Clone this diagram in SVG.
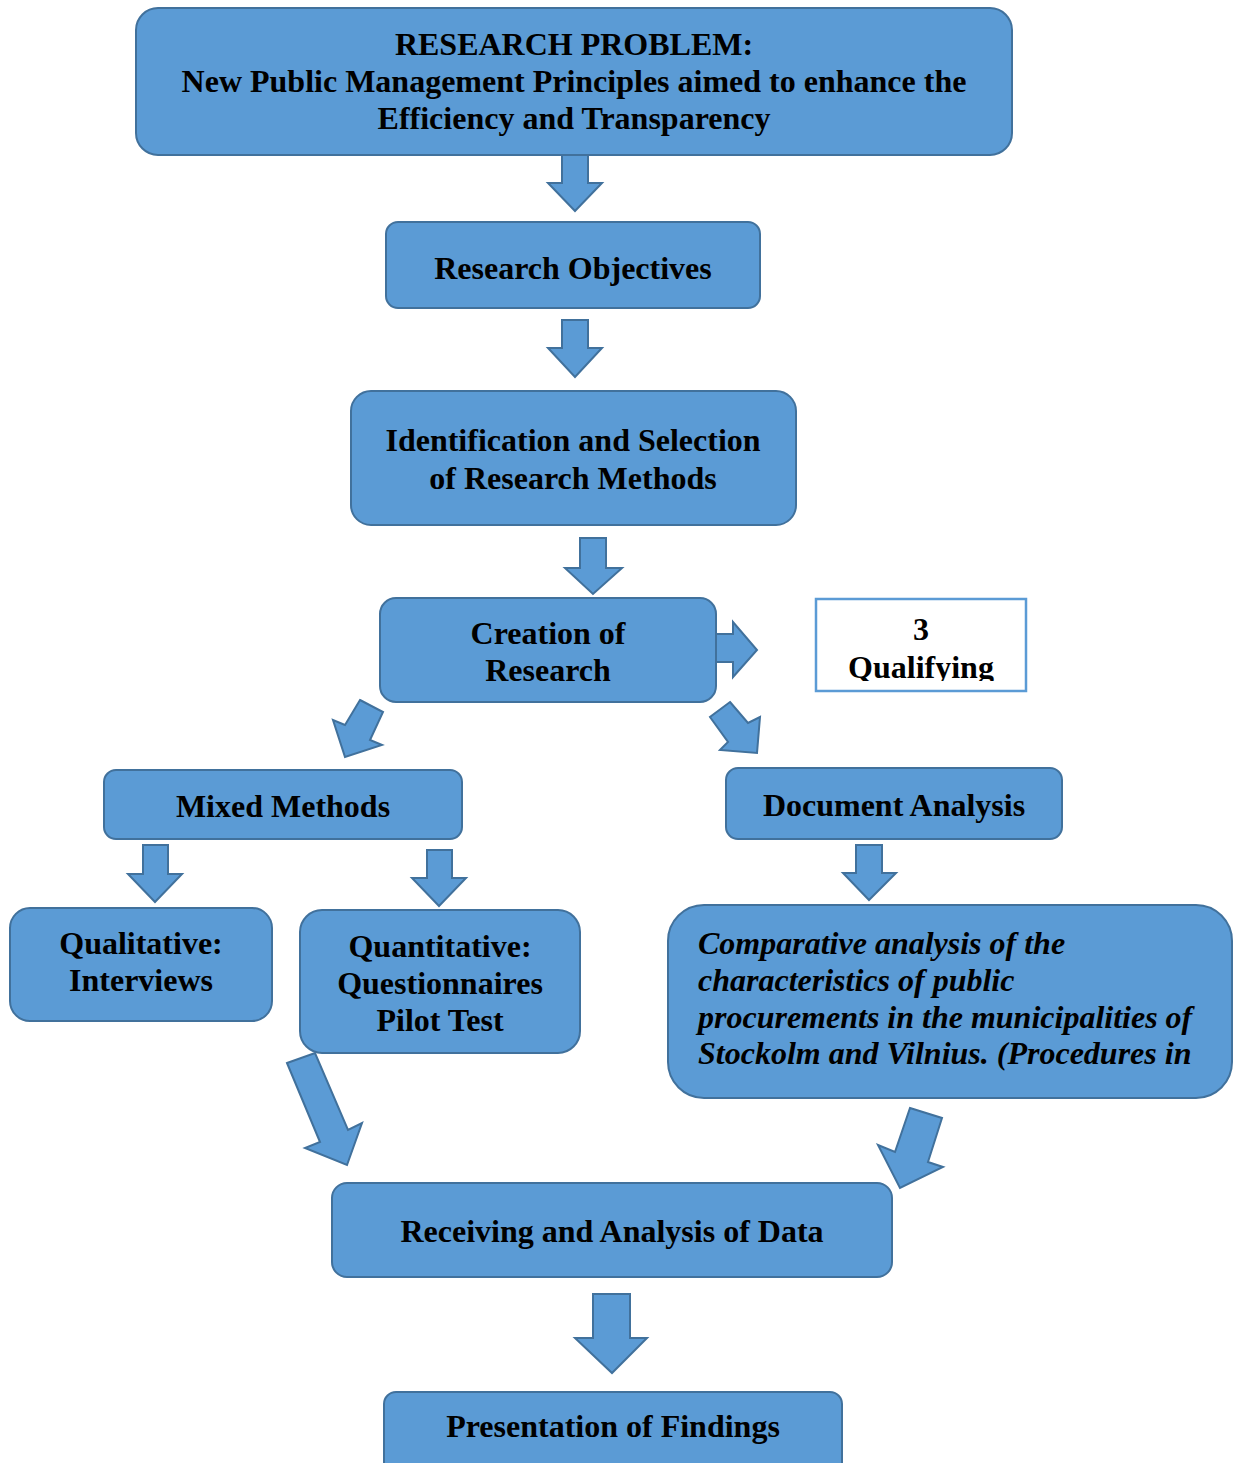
<svg xmlns="http://www.w3.org/2000/svg" width="1235" height="1463" viewBox="0 0 1235 1463">
  <defs>
    <style>
      .box { fill: #5b9bd5; stroke: #41719c; stroke-width: 2; }
      .arrow { fill: #5b9bd5; stroke: #41719c; stroke-width: 2; stroke-linejoin: miter; }
      .note { fill: #ffffff; stroke: #5b9bd5; stroke-width: 2.5; }
      text { font-family: "Liberation Serif", "Times New Roman", serif; font-weight: bold; font-size: 32px; fill: #000000; }
      .c { text-anchor: middle; }
      .it { font-style: italic; }
    </style>
    <clipPath id="noteClip">
      <rect x="816" y="599" width="210" height="82"/>
    </clipPath>
  </defs>
  <rect width="1235" height="1463" fill="#ffffff"/>

  <g id="connectors">
    <polygon class="arrow" points="562,155 588,155 588,183 602,183 575,211 548,183 562,183"/>
    <polygon class="arrow" points="562,320 588,320 588,348 602,348 575,377 548,348 562,348"/>
    <polygon class="arrow" points="580,538 606,538 606,568 622,568 593,594 565,568 580,568"/>
    <polygon class="arrow" points="716,634 733,634 733,622 757,650 733,677 733,662 716,662"/>
    <polygon class="arrow" points="360,700 383,712 370,740 382,745 345,757 333,720 345,725"/>
    <polygon class="arrow" points="730,702 748,723 760,717 757,753 720,750 728,742 710,717"/>
    <polygon class="arrow" points="143,845 168,845 168,874 182,874 155,902 128,874 143,874"/>
    <polygon class="arrow" points="427,850 452,850 452,878 466,878 439,906 412,878 427,878"/>
    <polygon class="arrow" points="856,845 882,845 882,873 896,873 869,900 843,873 856,873"/>
    <polygon class="arrow" points="287,1063 315,1053 348,1130 362,1123 347,1165 305,1148 320,1142"/>
    <polygon class="arrow" points="910,1108 942,1118 928,1162 943,1167 900,1188 878,1145 895,1152"/>
    <polygon class="arrow" points="593,1294 630,1294 630,1338 647,1338 612,1373 575,1338 593,1338"/>
  </g>

  <g id="research-problem">
    <rect class="box" x="136" y="8" width="876" height="147" rx="22"/>
    <text class="c" x="574" y="55">RESEARCH PROBLEM:</text>
    <text class="c" x="574" y="92">New Public Management Principles aimed to enhance the</text>
    <text class="c" x="574" y="129">Efficiency and Transparency</text>
  </g>

  <g id="research-objectives">
    <rect class="box" x="386" y="222" width="374" height="86" rx="12"/>
    <text class="c" x="573" y="279">Research Objectives</text>
  </g>

  <g id="identification">
    <rect class="box" x="351" y="391" width="445" height="134" rx="20"/>
    <text class="c" x="573" y="451">Identification and Selection</text>
    <text class="c" x="573" y="489">of Research Methods</text>
  </g>

  <g id="creation">
    <rect class="box" x="380" y="598" width="336" height="104" rx="16"/>
    <text class="c" x="548" y="644">Creation of</text>
    <text class="c" x="548" y="681">Research</text>
  </g>

  <g id="qualifying">
    <rect class="note" x="816" y="599" width="210" height="92"/>
    <g clip-path="url(#noteClip)">
      <text class="c" x="921" y="640">3</text>
      <text class="c" x="921" y="678">Qualifying</text>
    </g>
  </g>

  <g id="mixed-methods">
    <rect class="box" x="104" y="770" width="358" height="69" rx="12"/>
    <text class="c" x="283" y="817">Mixed Methods</text>
  </g>

  <g id="document-analysis">
    <rect class="box" x="726" y="768" width="336" height="71" rx="12"/>
    <text class="c" x="894" y="816">Document Analysis</text>
  </g>

  <g id="qualitative">
    <rect class="box" x="10" y="908" width="262" height="113" rx="20"/>
    <text class="c" x="141" y="954">Qualitative:</text>
    <text class="c" x="141" y="991">Interviews</text>
  </g>

  <g id="quantitative">
    <rect class="box" x="300" y="910" width="280" height="143" rx="22"/>
    <text class="c" x="440" y="957">Quantitative:</text>
    <text class="c" x="440" y="994">Questionnaires</text>
    <text class="c" x="440" y="1031">Pilot Test</text>
  </g>

  <g id="comparative-analysis">
    <rect class="box" x="668" y="905" width="564" height="193" rx="36"/>
    <text class="it" x="698" y="954">Comparative analysis of the</text>
    <text class="it" x="698" y="991">characteristics of public</text>
    <text class="it" x="698" y="1028">procurements in the municipalities of</text>
    <text class="it" x="698" y="1064">Stockolm and Vilnius. (Procedures in</text>
  </g>

  <g id="receiving-analysis">
    <rect class="box" x="332" y="1183" width="560" height="94" rx="15"/>
    <text class="c" x="612" y="1242">Receiving and Analysis of Data</text>
  </g>

  <g id="presentation">
    <rect class="box" x="384" y="1392" width="458" height="90" rx="12"/>
    <text class="c" x="613" y="1437">Presentation of Findings</text>
  </g>
</svg>
